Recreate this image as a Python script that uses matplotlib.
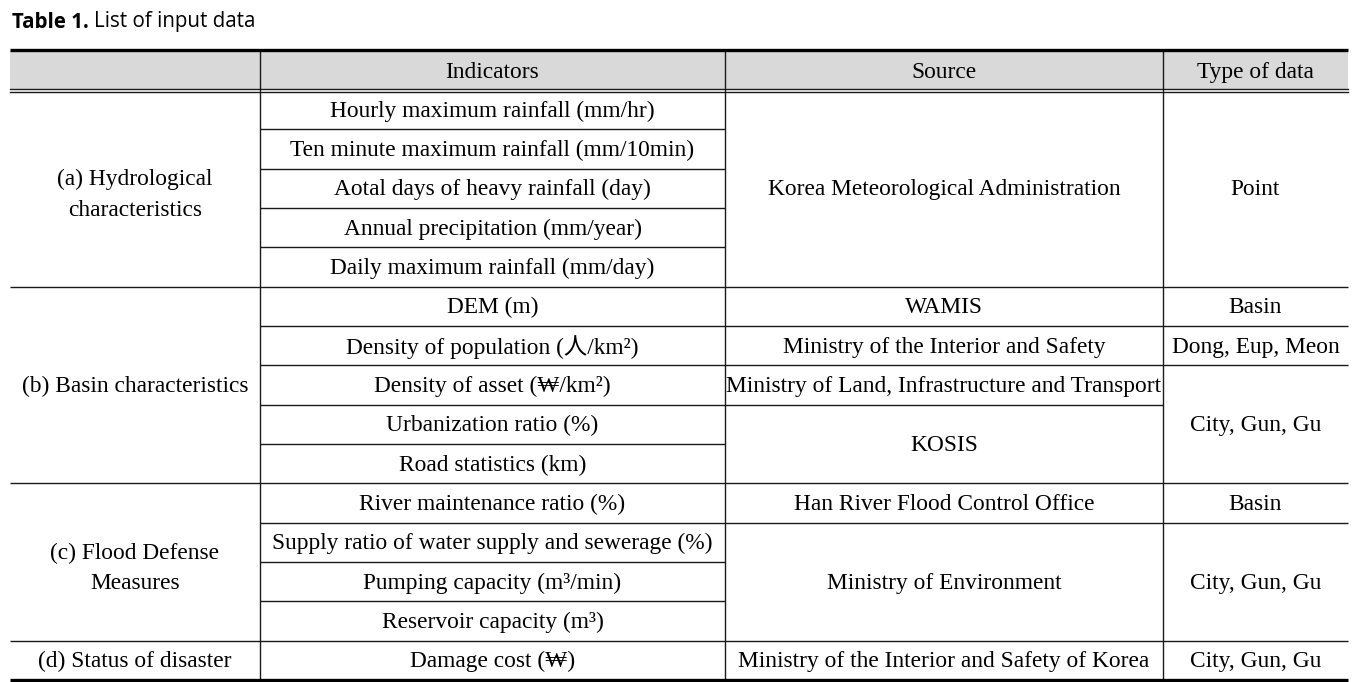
import matplotlib
matplotlib.use("Agg")
import matplotlib.pyplot as plt
import numpy as np

# ---- data ----
headers = ["", "Indicators", "Source", "Type of data"]
groups = ["(a) Hydrological\ncharacteristics", "(b) Basin characteristics",
          "(c) Flood Defense\nMeasures", "(d) Status of disaster"]
group_spans = [5, 5, 4, 1]
indicators = [
    "Hourly maximum rainfall (mm/hr)",
    "Ten minute maximum rainfall (mm/10min)",
    "Aotal days of heavy rainfall (day)",
    "Annual precipitation (mm/year)",
    "Daily maximum rainfall (mm/day)",
    "DEM (m)",
    "Density of population (人/km²)",
    "Density of asset (₩/km²)",
    "Urbanization ratio (%)",
    "Road statistics (km)",
    "River maintenance ratio (%)",
    "Supply ratio of water supply and sewerage (%)",
    "Pumping capacity (m³/min)",
    "Reservoir capacity (m³)",
    "Damage cost (₩)",
]
sources = ["Korea Meteorological Administration", "WAMIS",
           "Ministry of the Interior and Safety",
           "Ministry of Land, Infrastructure and Transport", "KOSIS",
           "Han River Flood Control Office", "Ministry of Environment",
           "Ministry of the Interior and Safety of Korea"]
source_spans = [5, 1, 1, 1, 2, 1, 3, 1]
types = ["Point", "Basin", "Dong, Eup, Meon", "City, Gun, Gu", "Basin",
         "City, Gun, Gu", "City, Gun, Gu"]
type_spans = [5, 1, 1, 3, 1, 3, 1]

# ---- layout ----
W, H = 1367, 682
col_x = [10, 260, 725, 1163, 1348]
top_y, head_y, bot_y = 50, 90, 680
n_rows = len(indicators)
row_h = (bot_y - head_y) / n_rows

serif = ["Liberation Serif", "Noto Sans CJK KR", "DejaVu Serif"]
fs = 16.8
line_c = "#1a1a1a"

fig = plt.figure(figsize=(W / 100, H / 100), dpi=100)
ax = fig.add_axes([0, 0, 1, 1])
ax.set_xlim(0, W)
ax.set_ylim(H, 0)
ax.axis("off")

# title
t1 = ax.text(12, 22, "Table 1.", fontsize=14.8, fontweight="bold",
             family=["Open Sans", "DejaVu Sans"], va="center", ha="left")
fig.canvas.draw()
bb = t1.get_window_extent()
ax.text(12 + bb.width + 5, 22, "List of input data", fontsize=14.8,
        family=["Open Sans", "DejaVu Sans"], va="center", ha="left")

# header fill
ax.add_patch(plt.Rectangle((col_x[0], top_y), col_x[-1] - col_x[0], head_y - top_y,
                           facecolor="#d9d9d9", edgecolor="none", zorder=0))
for i, h in enumerate(headers):
    if h:
        ax.text((col_x[i] + col_x[i + 1]) / 2, (top_y + head_y) / 2, h,
                fontsize=fs, family=serif, ha="center", va="center_baseline")

def row_y(i):
    return head_y + i * row_h

def draw_spans(col, labels, spans, ls=1.6):
    start = 0
    for lab, sp in zip(labels, spans):
        yc = (row_y(start) + row_y(start + sp)) / 2 - 1
        ax.text((col_x[col] + col_x[col + 1]) / 2, yc, lab, fontsize=fs,
                family=serif, ha="center", va="center_baseline", linespacing=ls)
        start += sp

def bounds(spans):
    return set(np.cumsum(spans)[:-1].tolist())

draw_spans(0, groups, group_spans)
draw_spans(1, indicators, [1] * n_rows)
draw_spans(2, sources, source_spans)
draw_spans(3, types, type_spans)

col_bounds = [bounds(group_spans), bounds([1] * n_rows),
              bounds(source_spans), bounds(type_spans)]
for b in range(1, n_rows):
    y = row_y(b)
    for c in range(4):
        if b in col_bounds[c]:
            ax.plot([col_x[c], col_x[c + 1]], [y, y], color=line_c, lw=1.0,
                    solid_capstyle="butt")

# verticals
for x in col_x[1:-1]:
    ax.plot([x, x], [top_y, bot_y], color=line_c, lw=1.0)

# rules
ax.plot([col_x[0], col_x[-1]], [top_y, top_y], color="black", lw=2.4, solid_capstyle="butt")
ax.plot([col_x[0], col_x[-1]], [bot_y, bot_y], color="black", lw=2.4, solid_capstyle="butt")
ax.plot([col_x[0], col_x[-1]], [head_y - 1.5, head_y - 1.5], color=line_c, lw=1.0)
ax.plot([col_x[0], col_x[-1]], [head_y + 1.5, head_y + 1.5], color=line_c, lw=1.0)

fig.savefig("out.png", dpi=100)
